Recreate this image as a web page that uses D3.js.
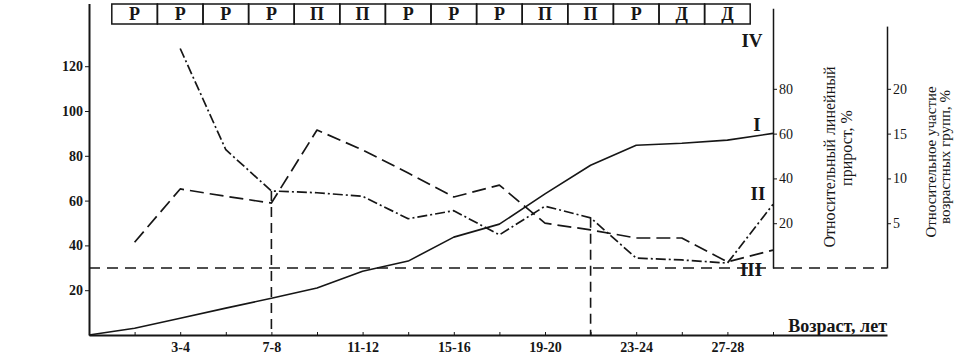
<!DOCTYPE html>
<html>
<head>
<meta charset="utf-8">
<script src="https://cdn.jsdelivr.net/npm/d3@7"></script>
<style>
  body { margin: 0; background: #fff; }
  svg { display: block; }
  svg text { font-family: "Liberation Serif", "Times New Roman", serif; }
</style>
</head>
<body>
<svg id="chart" width="975" height="361"></svg>
<script>
// Age groups (index 0 is the origin of the x axis)
const ageGroups = ["0", "1-2", "3-4", "5-6", "7-8", "9-10", "11-12", "13-14",
                   "15-16", "17-18", "19-20", "21-22", "23-24", "25-26", "27-28", "29-30"];
const labelledAges = ["3-4", "7-8", "11-12", "15-16", "19-20", "23-24", "27-28"];

// Curve I, left axis
const bodyLength = [0, 3, 7.5, 12, 16.4, 21, 28.5, 33, 43.7, 49.5, 63, 75.8, 84.7, 85.6, 87, 90];
// Long dashed curve, relative linear growth, %
const linearGrowth = [null, 11.5, 35.3, 32, 29, 61.6, 52.7, 42.4, 31.7, 37, 20, 17, 13.4, 13.4, 2.7, 8];
// Dash-dot curve II, relative share of age groups, %
const groupShare = [null, null, 24.5, 13.2, 8.6, 8.4, 8.0, 5.5, 6.4, 3.7, 6.9, 5.6, 1.1, 0.9, 0.55, 7.1];

// Periods bar at the top, one cell per age group 1-2 ... 27-28
const periods = ["Р", "Р", "Р", "Р", "П", "П", "Р", "Р", "Р", "П", "П", "Р", "Д", "Д"];

const leftTicks = [20, 40, 60, 80, 100, 120];
const growthTicks = [20, 40, 60, 80];
const shareTicks = [5, 10, 15, 20];
const markerAges = ["7-8", "21-22"];

const ink = "#161616";
const serif = "Liberation Serif, Times New Roman, serif";
const svg = d3.select("#chart");

// scales
const x = d3.scaleLinear().domain([0, 17.5]).range([89, 887]);
const yLeft = d3.scaleLinear().domain([0, 148]).range([335, 3.5]);
const yGrowth = d3.scaleLinear().domain([0, 116]).range([268, 8.2]);
const yShare = d3.scaleLinear().domain([0, 27]).range([268, 26.1]);

const idx = name => ageGroups.indexOf(name);

// left axis
const leftAxis = svg.append("g")
    .attr("transform", `translate(${x(0)},0)`)
    .call(d3.axisLeft(yLeft).tickValues(leftTicks).tickSize(4).tickSizeOuter(0).tickPadding(2));
leftAxis.select(".domain").attr("stroke-width", 2);
leftAxis.selectAll("text").attr("font-size", 14).attr("font-weight", "bold");

// x axis
const xAxis = svg.append("g")
    .attr("transform", `translate(0,${yLeft(0)})`)
    .call(d3.axisBottom(x)
        .tickValues(d3.range(1, ageGroups.length))
        .tickSize(-3).tickSizeOuter(0).tickPadding(7)
        .tickFormat(i => labelledAges.includes(ageGroups[i]) ? ageGroups[i] : ""));
xAxis.select(".domain").attr("stroke-width", 2);
xAxis.selectAll("text").attr("font-size", 14).attr("font-weight", "bold");

svg.append("text")
    .attr("x", x(17.5)).attr("y", yLeft(0) - 3)
    .attr("text-anchor", "end")
    .attr("font-size", 18).attr("font-weight", "bold")
    .attr("fill", ink)
    .text("Возраст, лет");

// right axis 1: relative linear growth
const growthAxis = svg.append("g")
    .attr("transform", `translate(${x(15)},0)`)
    .call(d3.axisRight(yGrowth).tickValues(growthTicks).tickSize(4).tickSizeOuter(0).tickPadding(2));
growthAxis.select(".domain").attr("stroke-width", 1.5);
growthAxis.selectAll("text").attr("font-size", 14);

const growthTitle = svg.append("text")
    .attr("transform", "translate(835,157) rotate(-90)")
    .attr("text-anchor", "middle").attr("font-size", 16).attr("fill", ink);
growthTitle.append("tspan").attr("x", 0).attr("y", 0).text("Относительный линейный");
growthTitle.append("tspan").attr("x", 9).attr("y", 0).attr("dy", 17).text("прирост, %");

// right axis 2: relative share of age groups
const shareAxis = svg.append("g")
    .attr("transform", `translate(${x(17.5)},0)`)
    .call(d3.axisRight(yShare).tickValues(shareTicks).tickSize(4).tickSizeOuter(0).tickPadding(2));
shareAxis.select(".domain").attr("stroke-width", 1.5);
shareAxis.selectAll("text").attr("font-size", 14);

const shareTitle = svg.append("text")
    .attr("transform", "translate(936,162) rotate(-90)")
    .attr("text-anchor", "middle").attr("font-size", 15).attr("fill", ink);
shareTitle.append("tspan").attr("x", 0).attr("y", 0).text("Относительное участие");
shareTitle.append("tspan").attr("x", 5).attr("y", 0).attr("dy", 14).text("возрастных групп, %");

// zero line of the right axes
svg.append("line")
    .attr("x1", x(0)).attr("x2", x(17.5))
    .attr("y1", yGrowth(0)).attr("y2", yGrowth(0))
    .attr("stroke", ink).attr("stroke-width", 1.6)
    .attr("stroke-dasharray", "11,7");

// vertical markers down to the x axis
markerAges.forEach(a => {
    svg.append("line")
        .attr("x1", x(idx(a))).attr("x2", x(idx(a)))
        .attr("y1", yShare(groupShare[idx(a)])).attr("y2", yLeft(0))
        .attr("stroke", ink).attr("stroke-width", 1.6)
        .attr("stroke-dasharray", "10,6");
});

// curves
function drawCurve(values, yScale, dash, width) {
    const line = d3.line()
        .defined(d => d != null)
        .x((d, i) => x(i))
        .y(d => yScale(d));
    svg.append("path")
        .attr("d", line(values))
        .attr("fill", "none")
        .attr("stroke", ink)
        .attr("stroke-width", width)
        .attr("stroke-linejoin", "round")
        .attr("stroke-dasharray", dash);
}
drawCurve(bodyLength, yLeft, null, 1.6);
drawCurve(linearGrowth, yGrowth, "14,6", 1.7);
drawCurve(groupShare, yShare, "10,3,2,3", 1.7);

// periods bar
const cells = svg.append("g");
cells.selectAll("rect")
    .data(periods)
    .join("rect")
    .attr("x", (d, i) => x(i + 0.5))
    .attr("y", 4)
    .attr("width", (d, i) => x(i + 1.5) - x(i + 0.5))
    .attr("height", 20)
    .attr("fill", "none").attr("stroke", ink).attr("stroke-width", 1.5);
cells.selectAll("text")
    .data(periods)
    .join("text")
    .attr("x", (d, i) => x(i + 1))
    .attr("y", 20)
    .attr("text-anchor", "middle")
    .attr("font-size", 18).attr("font-weight", "bold").attr("fill", ink)
    .text(d => d);

// curve labels
const last = ageGroups.length - 1;
const curveLabels = [
    { text: "IV", x: x(last) - 21, y: 47 },
    { text: "I", x: x(last) - 16, y: yLeft(bodyLength[last]) - 2 },
    { text: "II", x: x(last) - 15, y: yShare(groupShare[last]) - 4 },
    { text: "III", x: x(last) - 22, y: yGrowth(0) + 8 }
];
svg.selectAll(".curve-label")
    .data(curveLabels)
    .join("text")
    .attr("class", "curve-label")
    .attr("x", d => d.x).attr("y", d => d.y)
    .attr("text-anchor", "middle")
    .attr("font-size", 19).attr("font-weight", "bold").attr("fill", ink)
    .text(d => d.text);

svg.selectAll(".domain, .tick line").attr("stroke", ink);
svg.selectAll(".tick text").attr("fill", ink);
svg.selectAll("text").attr("font-family", serif);
</script>
</body>
</html>
